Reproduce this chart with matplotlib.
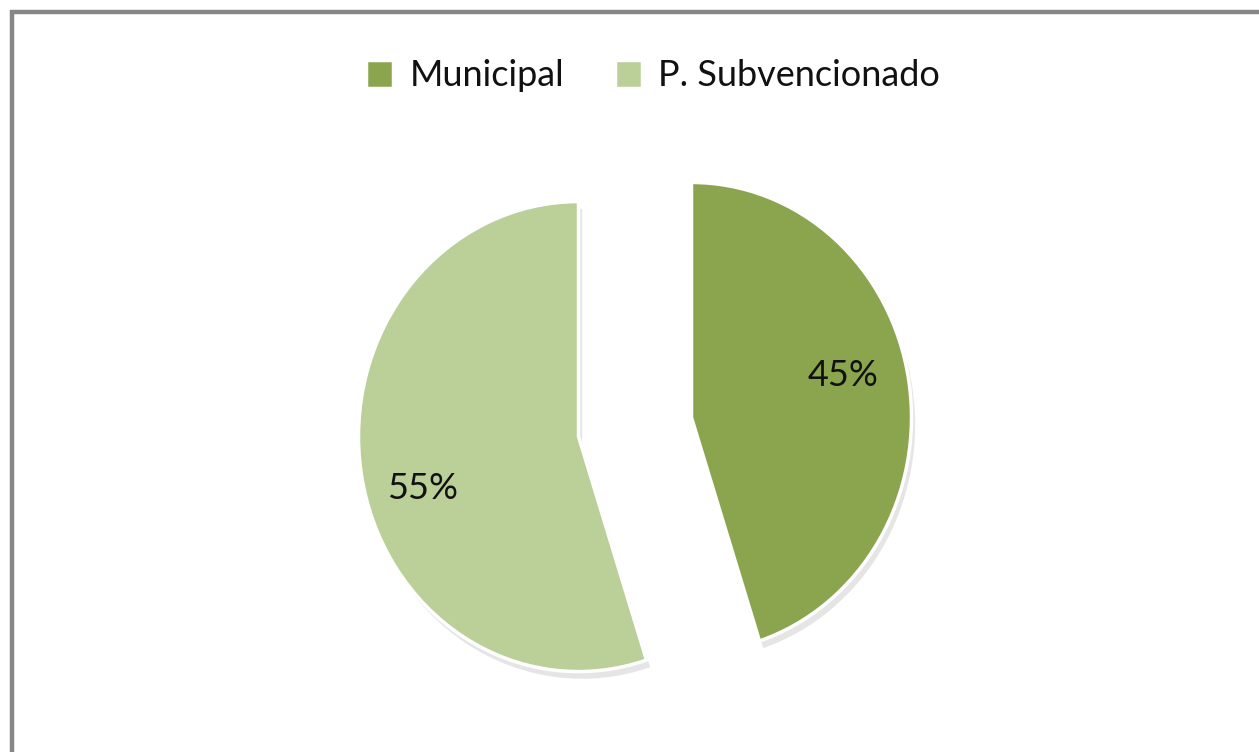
import matplotlib.pyplot as plt
from matplotlib.patches import Rectangle

# data
categories = ['Municipal', 'P. Subvencionado']
shares = [45, 55]
colors = ['#8AA54E', '#BBCF98']

W, H = 1259, 752
fig = plt.figure(figsize=(W / 100, H / 100), dpi=100)
plt.rcParams['font.family'] = ['Lato', 'DejaVu Sans']

ax = fig.add_axes([0, 0, 1, 1])
wedges, texts, autotexts = ax.pie(
    shares, colors=colors, startangle=90, counterclock=False,
    explode=[0.26, 0.26], autopct='%d%%', pctdistance=0.72,
    wedgeprops={'edgecolor': 'white', 'linewidth': 2.5},
    shadow={'ox': 0.012, 'oy': -0.022, 'facecolor': '#999999',
            'edgecolor': 'none', 'alpha': 0.25},
    textprops={'fontsize': 26, 'color': '#111111'})

# nudge the percentage labels to where the original puts them
label_offsets = [(0.69, 0.18), (-0.71, -0.22)]
for w, t, (dx, dy) in zip(wedges, autotexts, label_offsets):
    x0, y0 = w.center
    t.set_position((x0 + dx, y0 + dy))

# pixel mapping: pie centre at (635, 427) px, radius 220 px wide, 235 px tall
cx, cy, rx, ry = 635, 427, 220, 235
ax.set_aspect('auto')
ax.set_xlim(-cx / rx, (W - cx) / rx)
ax.set_ylim(-(H - cy) / ry, cy / ry)
ax.set_axis_off()

leg = fig.legend(wedges, categories, loc='center', bbox_to_anchor=(653 / W, 1 - 76 / H),
                 ncol=2, frameon=False, fontsize=26, handlelength=0.75, handleheight=0.85,
                 handletextpad=0.45, columnspacing=1.4, labelcolor='#111111')

# chart frame, running off the right and bottom edges
fig.patches.append(Rectangle((12 / W, -0.1), 1.2, 1 - 12 / H + 0.1, transform=fig.transFigure,
                             fill=False, edgecolor='#878787', linewidth=3.2))

fig.savefig('out.png', dpi=100)
